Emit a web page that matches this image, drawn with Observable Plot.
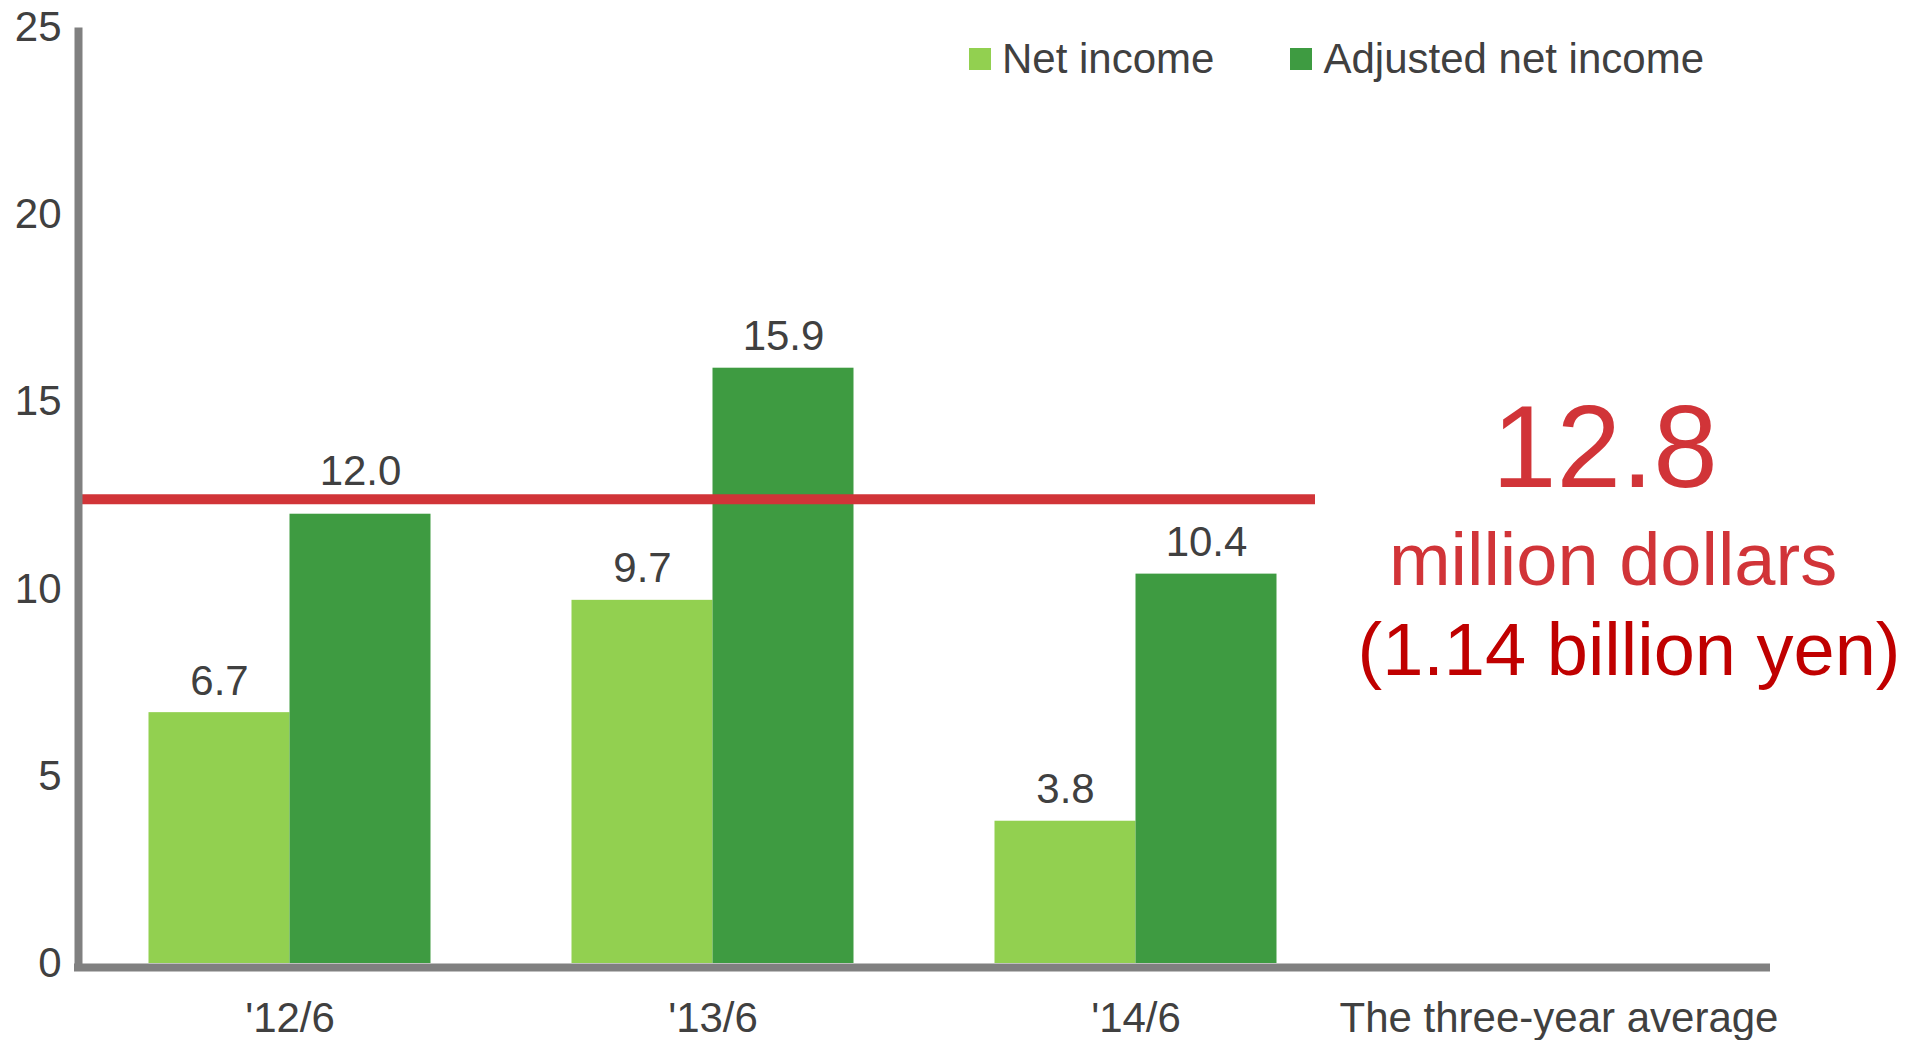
<!DOCTYPE html>
<html>
<head>
<meta charset="utf-8">
<script src="https://cdn.jsdelivr.net/npm/d3@7"></script>
<script src="https://cdn.jsdelivr.net/npm/@observablehq/plot@0.6"></script>
<style>
  body { margin: 0; background: #fff; font-family: "Liberation Sans", Arial, sans-serif; }
  #wrap { position: relative; width: 1916px; height: 1040px; }
  #legend { position: absolute; left: 969px; top: 35px; display: flex; align-items: center;
            font-size: 42px; line-height: 48px; color: #404040; white-space: nowrap; }
  .item { display: flex; align-items: center; margin-right: 76px; }
  .sw { width: 22px; height: 22px; margin-right: 11px; }
</style>
</head>
<body>
<div id="wrap"><div id="legend"></div></div>
<script>
// ---- data ----
const categories = ["'12/6", "'13/6", "'14/6", "The three-year average"];
const years = ["'12/6", "'13/6", "'14/6"];
const seriesNames = ["Net income", "Adjusted net income"];
const seriesColors = ["#92d050", "#3e9b41"];
const netIncome = [6.7, 9.7, 3.8];
const adjustedNetIncome = [12.0, 15.9, 10.4];
const yTicks = [0, 5, 10, 15, 20, 25];
const averageLine = 12.4;          // where the red line is drawn
const averageValue = 12.8;         // stated three-year average
const averageUnit = "million dollars";
const averageYen = "(1.14 billion yen)";

const rows = years.flatMap((yr, i) => [
  {year: yr, series: seriesNames[0], value: netIncome[i]},
  {year: yr, series: seriesNames[1], value: adjustedNetIncome[i]}
]);

// ---- layout ----
const W = 1916, H = 1040, mL = 78, mR = 146, mT = 27, mB = 77;
const bw = (W - mL - mR) / categories.length;
const font = "'Liberation Sans', Arial, sans-serif";
const textColor = "#404040";
const red = "#d13438";
const darkRed = "#c00000";
const axisGray = "#808080";

const near = d => Math.abs(d.value - averageLine) < 1;
const net = rows.filter(d => d.series === seriesNames[0]);
const adj = rows.filter(d => d.series === seriesNames[1]);

const chart = Plot.plot({
  width: W, height: H,
  marginLeft: mL, marginRight: mR, marginTop: mT, marginBottom: mB,
  style: {fontFamily: font, color: textColor, background: "white", overflow: "visible"},
  x: {type: "band", domain: categories, padding: 0, label: null},
  y: {domain: [0, 25], label: null},
  color: {domain: seriesNames, range: seriesColors},
  marks: [
    Plot.barY(net, {x: "year", y: "value", fill: "series", insetLeft: bw / 6, insetRight: bw / 2}),
    Plot.barY(adj, {x: "year", y: "value", fill: "series", insetLeft: bw / 2, insetRight: bw / 6}),
    Plot.text(net.filter(d => !near(d)), {x: "year", y: "value", text: d => d.value.toFixed(1), dx: -bw / 6, dy: -18, lineAnchor: "bottom", fontSize: 42, fill: textColor}),
    Plot.text(adj.filter(d => !near(d)), {x: "year", y: "value", text: d => d.value.toFixed(1), dx: bw / 6, dy: -18, lineAnchor: "bottom", fontSize: 42, fill: textColor}),
    Plot.text(net.filter(near), {x: "year", y: "value", text: d => d.value.toFixed(1), dx: -bw / 6, dy: -29, lineAnchor: "bottom", fontSize: 42, fill: textColor}),
    Plot.text(adj.filter(near), {x: "year", y: "value", text: d => d.value.toFixed(1), dx: bw / 6, dy: -29, lineAnchor: "bottom", fontSize: 42, fill: textColor}),
    Plot.ruleY([averageLine], {x1: () => years[0], x2: () => years[years.length - 1], stroke: red, strokeWidth: 10, insetRight: 32}),
    Plot.ruleY([0], {stroke: axisGray, strokeWidth: 8, dy: 4, insetLeft: -4}),
    Plot.frame({anchor: "left", stroke: axisGray, strokeWidth: 8, insetTop: 4}),
    Plot.axisY({ticks: yTicks, tickSize: 0, tickPadding: 17, fontSize: 42, fill: textColor, tickFormat: d => String(d), label: null}),
    Plot.axisX({tickSize: 0, tickPadding: 39, fontSize: 42, fill: textColor, label: null}),
    Plot.text([averageValue], {x: () => categories[3], y: d => d, text: d => d.toFixed(1), dx: 46, dy: 3, lineAnchor: "bottom", fontSize: 116, fill: red}),
    Plot.text([averageUnit], {x: () => categories[3], y: () => averageValue, text: d => d, dx: 54, dy: 101, lineAnchor: "bottom", fontSize: 74, fill: red}),
    Plot.text([averageYen], {x: () => categories[3], y: () => averageValue, text: d => d, dx: 70, dy: 191, lineAnchor: "bottom", fontSize: 74, fill: darkRed})
  ]
});

const wrap = document.getElementById("wrap");
wrap.insertBefore(chart, wrap.firstChild);

// legend
const legend = document.getElementById("legend");
seriesNames.forEach((name, i) => {
  const item = document.createElement("div");
  item.className = "item";
  const sw = document.createElement("div");
  sw.className = "sw";
  sw.style.background = seriesColors[i];
  const label = document.createElement("span");
  label.textContent = name;
  item.appendChild(sw);
  item.appendChild(label);
  legend.appendChild(item);
});
</script>
</body>
</html>
